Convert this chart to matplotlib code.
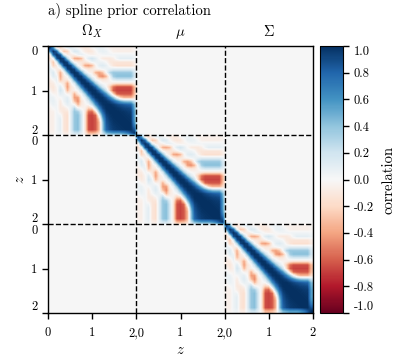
import numpy as np
import matplotlib
matplotlib.use('Agg')
import matplotlib.pyplot as plt

plt.rcParams['font.family'] = ['cmr10', 'DejaVu Sans']
plt.rcParams['mathtext.fontset'] = 'cm'
plt.rcParams['axes.unicode_minus'] = False
plt.rcParams['axes.formatter.use_mathtext'] = True

# ======== Data (upper triangle of one block, z = 0..2) ========
block_rows = [
    [1, .6, -.1, -.18, -.02, .08, .1, .03, -.02, -.06, -.1, -.08, -.02, .04, .06, .05, 0, -.04, -.05, -.05, -.05, -.05, -.05, -.05, -.03],
    [1, .8, .05, -.28, -.22, .02, .15, .12, 0, -.08, -.12, -.1, -.02, .06, .08, .06, 0, -.05, -.06, -.06, -.06, -.06, -.06, -.03],
    [1, .88, .15, -.08, -.08, -.05, .05, .08, .03, -.02, -.04, -.03, -.01, .02, .03, .03, .03, .04, .04, .04, .04, .04, .02],
    [1, .9, .3, -.08, -.35, -.38, -.3, -.02, .12, .18, .1, 0, -.08, -.1, -.1, -.06, .04, .1, .1, .1, .1, .05],
    [1, .92, .35, -.02, -.1, -.12, -.12, -.05, .05, .06, .06, .05, 0, -.1, -.12, -.12, -.12, -.12, -.12, -.12, -.06],
    [1, .93, .45, .02, -.1, -.38, -.42, -.32, -.03, .1, .13, .08, -.03, -.12, -.16, -.16, -.16, -.16, -.16, -.08],
    [1, .94, .5, .08, -.05, -.12, -.1, -.05, -.01, .03, .05, .08, .12, .12, .12, .12, .12, .12, .06],
    [1, .95, .6, .15, -.02, -.05, -.35, -.42, -.3, 0, .28, .38, .38, .38, .38, .38, .38, .18],
    [1, .96, .65, .25, .02, -.08, -.42, -.48, -.32, .05, .35, .42, .42, .42, .42, .42, .2],
    [1, .96, .7, .3, .02, -.05, -.12, -.1, -.02, .12, .18, .18, .18, .18, .18, .09],
    [1, .97, .75, .35, .08, 0, -.03, -.05, -.1, -.14, -.14, -.14, -.14, -.14, -.07],
    [1, .97, .8, .42, .15, 0, -.25, -.55, -.65, -.65, -.65, -.65, -.65, -.32],
    [1, .98, .82, .5, .2, -.2, -.6, -.68, -.68, -.68, -.68, -.68, -.34],
    [1, .98, .85, .6, .25, -.2, -.58, -.62, -.62, -.62, -.62, -.3],
    [1, .98, .88, .68, .4, .05, -.22, -.33, -.33, -.33, -.17],
    [1, .98, .92, .8, .65, .5, .4, .38, .38, .2],
    [1, 1, .97, .92, .88, .85, .82, .8, .45],
    [1, 1, .98, .96, .93, .92, .9, .5],
    [1, 1, .99, .98, .96, .95, .55],
    [1, 1, .99, .98, .97, .55],
    [1, 1, .99, .98, .55],
    [1, 1, .99, .6],
    [1, 1, .7],
    [1, .85],
    [1],
]
block_names = [r'$\Omega_X$', r'$\mu$', r'$\Sigma$']
z_ticks = [0, 1, 2, 3, 4, 5, 6]
x_labels = ['0', '1', '2,0', '1', '2,0', '1', '2']
y_labels = ['0', '1', '2\n0', '1', '2\n0', '1', '2']
cbar_ticks = [-1.0, -0.8, -0.6, -0.4, -0.2, 0.0, 0.2, 0.4, 0.6, 0.8, 1.0]
cbar_labels = ['-1.0', '-0.8', '-0.6', '-0.4', '-0.2', '0.0', '0.2', '0.4', '0.6', '0.8', '1.0']

# ======== Build the matrix ========
n = len(block_rows)
block = np.zeros((n, n))
for i, row in enumerate(block_rows):
    block[i, i:i + len(row)] = row
    block[i:i + len(row), i] = row
corr = np.zeros((3 * n, 3 * n))
for k in range(3):
    corr[k * n:(k + 1) * n, k * n:(k + 1) * n] = block

# ======== Plotting ========
W, H = 398, 356
fig = plt.figure(figsize=(W / 100, H / 100), dpi=100)
ax = fig.add_axes([48 / W, 1 - 313 / H, 265 / W, 267 / H])
im = ax.imshow(corr, cmap='RdBu', vmin=-1, vmax=1, extent=[0, 6, 6, 0],
               aspect='auto', interpolation='bilinear')

for pos in [2, 4]:
    ax.axvline(pos, color='k', ls='--', lw=1)
    ax.axhline(pos, color='k', ls='--', lw=1)

ax.set_xticks(z_ticks)
ax.set_xticklabels(x_labels, fontsize=9)
ax.set_yticks(z_ticks)
ax.set_yticklabels(y_labels, fontsize=9, linespacing=0.95)
ax.tick_params(length=4, width=1)
ax.tick_params(axis='x', pad=6)
ylabs = ax.get_yticklabels()
ylabs[0].set_va('top')
ylabs[-1].set_va('bottom')
ax.set_xlabel('$z$', fontsize=10.5, labelpad=3)
ax.set_ylabel('$z$', fontsize=10.5, labelpad=3)
for sp in ax.spines.values():
    sp.set_linewidth(1)

for k, name in enumerate(block_names):
    ax.text(2 * k + 1, -0.23, name, ha='center', va='baseline', fontsize=10.5)
ax.text(0, -0.70, 'a) spline prior correlation', ha='left', va='baseline', fontsize=10.5)

cax = fig.add_axes([320 / W, 1 - 313 / H, 23 / W, 267 / H])
cb = fig.colorbar(im, cax=cax)
cb.set_ticks(cbar_ticks)
cb.set_ticklabels(cbar_labels, fontsize=9)
cb.ax.tick_params(length=4, width=1)
clabs = cb.ax.get_yticklabels()
clabs[0].set_va('bottom')
clabs[-1].set_va('top')
cb.set_label('correlation', fontsize=10.5, labelpad=6)

fig.savefig('out.png', dpi=100)
